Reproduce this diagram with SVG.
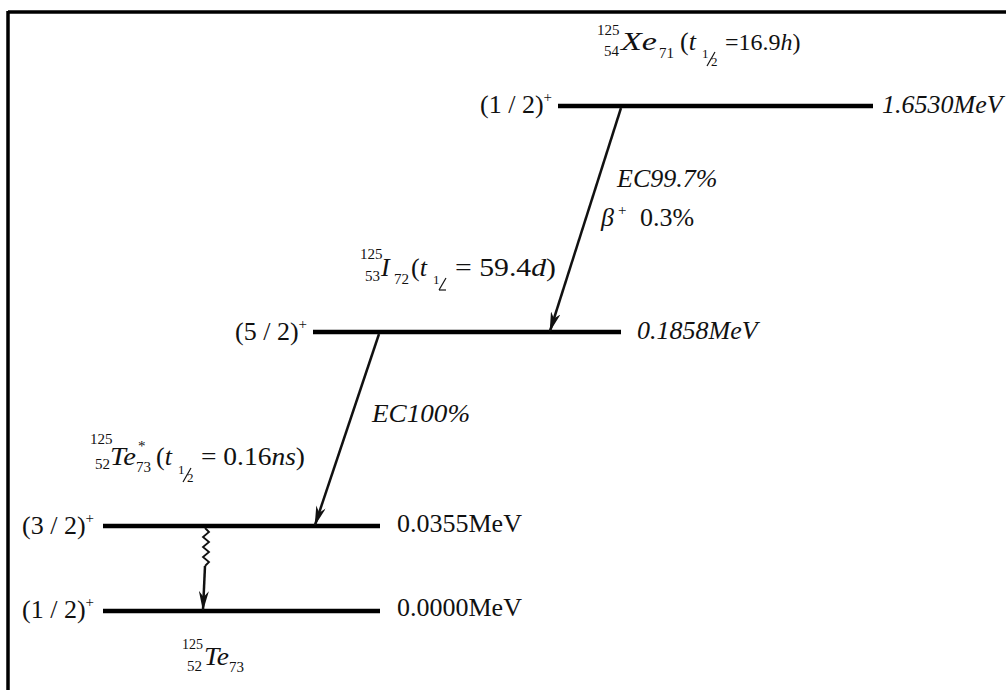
<svg xmlns="http://www.w3.org/2000/svg" width="1006" height="690" viewBox="0 0 1006 690">
<defs>
<style>
text,tspan{font-family:"Liberation Serif","Times New Roman",serif;fill:#111;}
.m{font-size:26px;}
.s{font-size:15px;}
.f{font-size:13px;}
.i{font-style:italic;}
.lvl{stroke:#000;stroke-width:4.5;}
.frac{stroke:#111;stroke-width:1.2;}
.arr{stroke:#111;stroke-width:2.5;fill:none;marker-end:url(#ah);}
</style>
<marker id="ah" viewBox="0 0 20 10" refX="19" refY="5" markerWidth="20" markerHeight="10" markerUnits="userSpaceOnUse" orient="auto">
<path d="M0,0 L20,5 L0,10 L6,5 Z" fill="#111"/>
</marker>
</defs>
<rect x="0" y="0" width="1006" height="690" fill="#fff"/>
<g id="frame">
<line x1="8" y1="12" x2="1006" y2="12" stroke="#000" stroke-width="3.5"/>
<line x1="8" y1="11" x2="8" y2="690" stroke="#000" stroke-width="3.5"/>
</g>
<g id="level-xe">
<line class="lvl" x1="558" y1="106" x2="873" y2="106"/>
<text class="m" x="480" y="113">(1 / 2)<tspan class="s" dy="-11">+</tspan></text>
<text class="m i" x="882" y="113">1.6530MeV</text>
<text class="s" x="597" y="35">125</text>
<text class="s" x="604" y="56">54</text>
<text class="m i" x="621" y="50" textLength="36" lengthAdjust="spacingAndGlyphs">Xe</text>
<text class="s" x="659" y="58">71</text>
<text class="m" x="680" y="50">(<tspan class="i">t</tspan></text>
<text class="f" x="702" y="58">1</text>
<line class="frac" x1="715" y1="52" x2="707" y2="66"/>
<text class="f" x="711" y="66">2</text>
<text x="725" y="50" style="font-size:24px">=16.9<tspan class="i">h</tspan>)</text>
</g>
<g id="level-i">
<line class="lvl" x1="313" y1="332" x2="621" y2="332"/>
<text class="m" x="235" y="340">(5 / 2)<tspan class="s" dy="-11">+</tspan></text>
<text class="m i" x="637" y="339">0.1858MeV</text>
<text class="s" x="360" y="259">125</text>
<text class="s" x="365" y="281">53</text>
<text class="m i" x="381" y="276">I</text>
<text class="s" x="394" y="284">72</text>
<text class="m" x="411" y="276">(<tspan class="i">t</tspan></text>
<text class="f" x="433" y="284">1</text>
<line class="frac" x1="446" y1="278" x2="439" y2="290"/>
<line class="frac" x1="439" y1="290" x2="446" y2="290"/>
<text class="m" x="455" y="276" textLength="101" lengthAdjust="spacingAndGlyphs">= 59.4<tspan class="i">d</tspan>)</text>
</g>
<g id="level-te-excited">
<line class="lvl" x1="103" y1="526" x2="380" y2="526"/>
<text class="m" x="22" y="534">(3 / 2)<tspan class="s" dy="-11">+</tspan></text>
<text class="m" x="397" y="532">0.0355MeV</text>
<text class="s" x="90" y="444">125</text>
<text class="s" x="95" y="469">52</text>
<text class="m i" x="110" y="465" textLength="26" lengthAdjust="spacingAndGlyphs">Te</text>
<text class="s" x="138" y="451">*</text>
<text class="s" x="136" y="472">73</text>
<text class="m" x="156" y="465">(<tspan class="i">t</tspan></text>
<text class="f" x="178" y="474">1</text>
<line class="frac" x1="191" y1="468" x2="183" y2="482"/>
<text class="f" x="187" y="482">2</text>
<text class="m" x="201" y="465" textLength="104" lengthAdjust="spacingAndGlyphs">= 0.16<tspan class="i">ns</tspan>)</text>
</g>
<g id="level-te-ground">
<line class="lvl" x1="103" y1="611" x2="380" y2="611"/>
<text class="m" x="22" y="618">(1 / 2)<tspan class="s" dy="-11">+</tspan></text>
<text class="m" x="397" y="616">0.0000MeV</text>
<text class="s" x="182" y="649" style="font-size:14px">125</text>
<text class="s" x="187" y="671">52</text>
<text class="m i" x="204" y="665" textLength="25" lengthAdjust="spacingAndGlyphs">Te</text>
<text class="s" x="229" y="672">73</text>
</g>
<g id="connectors">
<line class="arr" x1="621" y1="108" x2="550" y2="331"/>
<line class="arr" x1="379" y1="334" x2="315" y2="525"/>
<path d="M205,528 l4,4 l-6,5 l6,5 l-6,5 l6,5 l-6,5 l6,5 l-4,4" stroke="#111" stroke-width="1.8" fill="none"/>
<line class="arr" x1="205" y1="566" x2="203" y2="610"/>
<text class="m i" x="617" y="187">EC99.7%</text>
<text class="m i" x="601" y="226">β</text>
<text class="s" x="618" y="215">+</text>
<text class="m" x="640" y="226">0.3%</text>
<text class="m i" x="372" y="422" textLength="98" lengthAdjust="spacingAndGlyphs">EC100%</text>
</g>
</svg>
